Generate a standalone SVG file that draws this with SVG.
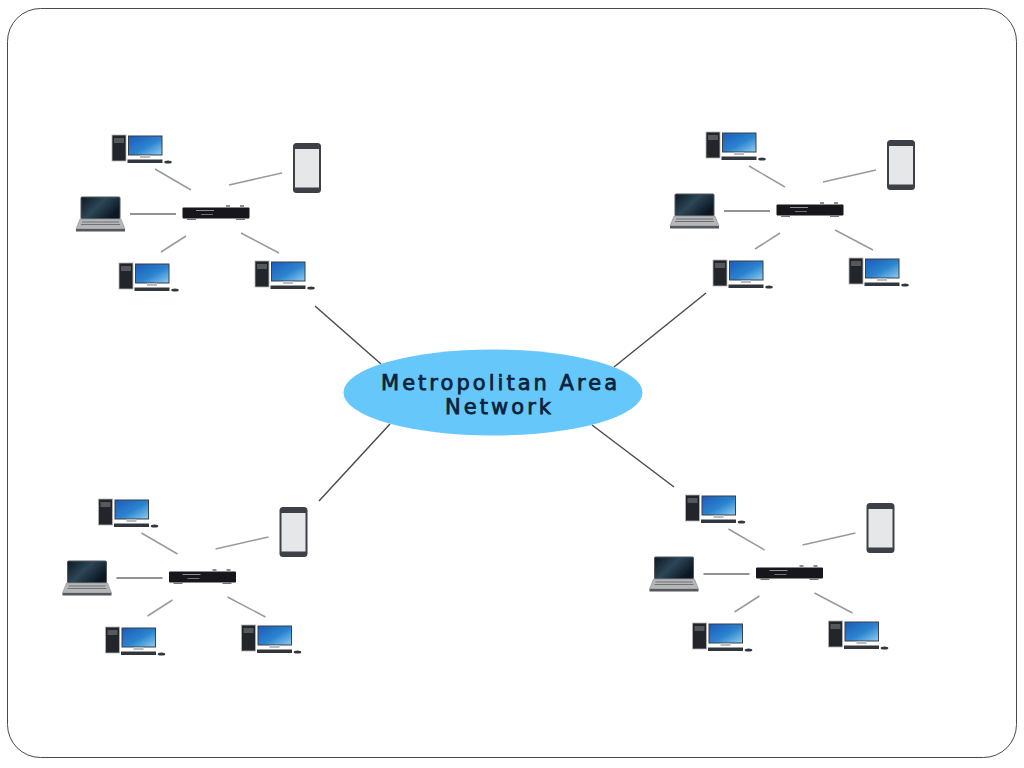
<svg xmlns="http://www.w3.org/2000/svg" width="1024" height="768" viewBox="0 0 1024 768">
<style>
.frame{fill:#fff;stroke:#4a4a4a;stroke-width:1}
.hub{fill:#66c7fb}
.main{stroke:#4d4d4d;stroke-width:1.5;fill:none}
.link{stroke:#9a9a9a;stroke-width:1.5;fill:none}
.link2{stroke:#6e6e6e;stroke-width:1.5;fill:none}
text{font-family:"DejaVu Sans",sans-serif;font-size:21px;font-weight:400;fill:#0b2238;stroke:#0b2238;stroke-width:0.75;text-anchor:middle}
</style>
<defs>
<filter id="soft" x="-10%" y="-10%" width="120%" height="120%"><feGaussianBlur stdDeviation="0.5"/></filter>
<linearGradient id="scr" x1="0" y1="0" x2="1" y2="1"><stop offset="0" stop-color="#1d5ab8"/><stop offset="0.55" stop-color="#2c84cf"/><stop offset="1" stop-color="#8fd0f0"/></linearGradient>
<linearGradient id="lap" x1="0" y1="0" x2="1" y2="0.6"><stop offset="0" stop-color="#0b1722"/><stop offset="0.5" stop-color="#2d4656"/><stop offset="1" stop-color="#0a1520"/></linearGradient>
<g id="desktop" filter="url(#soft)">
<rect x="112" y="135" width="14" height="26" fill="#23252a" stroke="#b5b5b5" stroke-width="0.8"/>
<rect x="114" y="138" width="10" height="5" fill="#55585e"/>
<rect x="128.500" y="136" width="33.500" height="19" fill="url(#scr)" stroke="#3a3f46" stroke-width="1"/>
<rect x="140" y="155" width="10" height="3" fill="#b9bcc0"/>
<rect x="127.500" y="159.500" width="35" height="3.500" fill="#33363b"/>
<ellipse cx="168" cy="162" rx="3.800" ry="1.600" fill="#34373b"/>
</g>
<g id="phone" filter="url(#soft)">
<rect x="293" y="143" width="28" height="50" rx="3.500" fill="#3c4147"/>
<rect x="295" y="149" width="24" height="38.500" fill="#e6e7e8"/>
</g>
<g id="laptop" filter="url(#soft)">
<rect x="81" y="197" width="39" height="22" rx="1" fill="url(#lap)" stroke="#55585c" stroke-width="1"/>
<path d="M80 219H121L125 229H76Z" fill="#b4b6b8" stroke="#8a8d90" stroke-width="0.6"/>
<path d="M82 222H119M81 224.500H120" stroke="#6f7275" stroke-width="1" fill="none"/>
<rect x="76" y="229" width="49" height="2.500" fill="#55585c"/>
</g>
<g id="router" filter="url(#soft)">
<rect x="182.500" y="207.500" width="67" height="11" rx="1" fill="#16181b"/>
<rect x="226" y="205" width="4" height="2.500" fill="#8b8d90"/>
<rect x="240" y="205" width="4" height="2.500" fill="#8b8d90"/>
<rect x="196" y="210" width="18" height="1" fill="#8d9094"/>
<rect x="201" y="214" width="12" height="1" fill="#6f7276"/>
<rect x="187" y="218.500" width="9" height="1.500" fill="#74767a"/>
<rect x="236" y="218.500" width="9" height="1.500" fill="#74767a"/>
</g>
</defs>
<rect id="frame" class="frame" x="7.500" y="8.500" width="1009" height="749" rx="33" ry="33"/>
<g id="connectors">
<path class="main" d="M315 306L381 364M706 293L614 367M390 424L319 501M592 425L674 487"/>
<g id="links-tl"><path class="link" d="M155 169L191 190M229 185L282 173M161 252L186 236M241 233L279 253"/><path class="link2" d="M130 214H176"/></g>
<g id="links-tr" transform="translate(594 -3)"><path class="link" d="M155 169L191 190M229 185L282 173M161 252L186 236M241 233L279 253"/><path class="link2" d="M130 214H176"/></g>
<g id="links-bl" transform="translate(-13.500 364)"><path class="link" d="M155 169L191 190M229 185L282 173M161 252L186 236M241 233L279 253"/><path class="link2" d="M130 214H176"/></g>
<g id="links-br" transform="translate(573.500 360)"><path class="link" d="M155 169L191 190M229 185L282 173M161 252L186 236M241 233L279 253"/><path class="link2" d="M130 214H176"/></g>
</g>
<g id="hub">
<ellipse class="hub" cx="493" cy="392.500" rx="149.500" ry="43"/>
<text x="499" y="390" textLength="236" lengthAdjust="spacing">Metropolitan Area</text>
<text x="498" y="414" textLength="106" lengthAdjust="spacing">Network</text>
</g>
<g id="tl">
<use id="tl-pc1" href="#desktop"/><use id="tl-phone" href="#phone"/><use id="tl-laptop" href="#laptop"/><use id="tl-router" href="#router"/>
<use id="tl-pc2" href="#desktop" x="7" y="128"/><use id="tl-pc3" href="#desktop" x="143" y="126"/>
</g>
<g id="tr" transform="translate(594 -3)">
<use id="tr-pc1" href="#desktop"/><use id="tr-phone" href="#phone"/><use id="tr-laptop" href="#laptop"/><use id="tr-router" href="#router"/>
<use id="tr-pc2" href="#desktop" x="7" y="128"/><use id="tr-pc3" href="#desktop" x="143" y="126"/>
</g>
<g id="bl" transform="translate(-13.500 364)">
<use id="bl-pc1" href="#desktop"/><use id="bl-phone" href="#phone"/><use id="bl-laptop" href="#laptop"/><use id="bl-router" href="#router"/>
<use id="bl-pc2" href="#desktop" x="7" y="128"/><use id="bl-pc3" href="#desktop" x="143" y="126"/>
</g>
<g id="br" transform="translate(573.500 360)">
<use id="br-pc1" href="#desktop"/><use id="br-phone" href="#phone"/><use id="br-laptop" href="#laptop"/><use id="br-router" href="#router"/>
<use id="br-pc2" href="#desktop" x="7" y="128"/><use id="br-pc3" href="#desktop" x="143" y="126"/>
</g>
</svg>
